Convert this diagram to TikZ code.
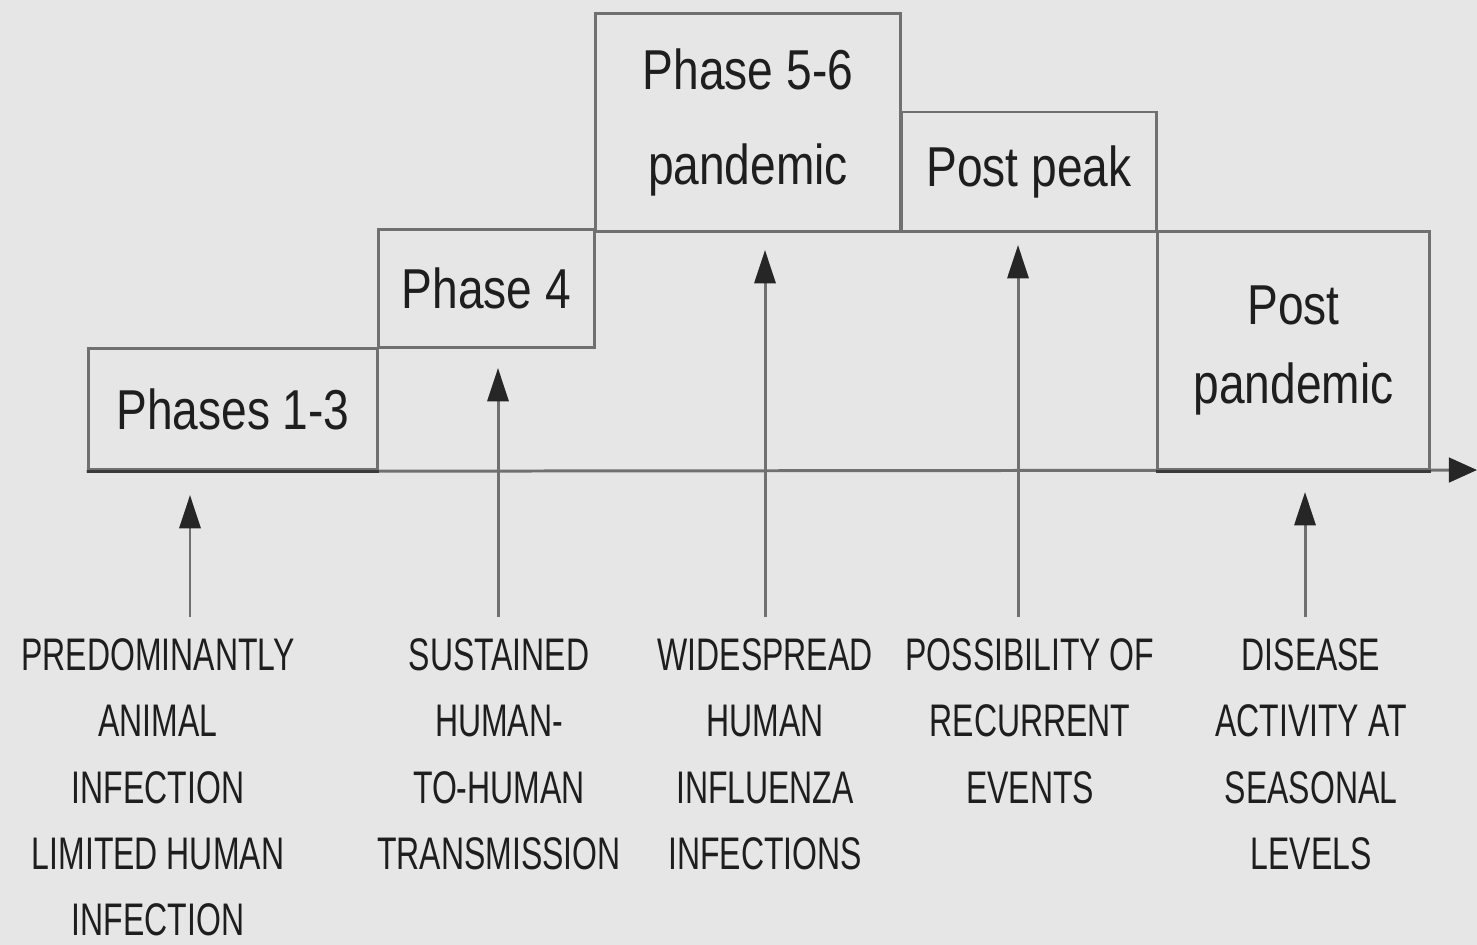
\documentclass[tikz,border=0pt]{standalone}
\usepackage{fontspec}
\setmainfont{Liberation Sans}
\newfontfamily\boxfont{Liberation Sans}[FakeStretch=0.82]
\newfontfamily\capfont{Liberation Sans}[FakeStretch=0.70]
\usetikzlibrary{arrows.meta,calc}
\definecolor{bg}{HTML}{E6E6E6}
\definecolor{edge}{HTML}{707070}
\definecolor{dark}{HTML}{3A3A3A}
\definecolor{ink}{HTML}{1E1E1E}
\begin{document}
\begin{tikzpicture}[x=0.02cm,y=-0.02cm,
  phasebox/.style={draw=edge, line width=1.7pt, inner sep=0pt, text=ink, align=center,
    font=\boxfont\fontsize{32}{54}\selectfont},
  caplabel/.style={anchor=north, inner sep=0pt, text=ink, align=center,
    font=\capfont\fontsize{26}{37.8}\selectfont},
  uparrow/.style={draw=edge, line width=1.7pt, -{Triangle[length=19pt,width=12pt,color=black!85]}},
  axisline/.style={draw=edge, line width=1.7pt, -{Triangle[length=16pt,width=14pt,color=black!85]}},
  darkedge/.style={draw=dark, line width=1.8pt}
]
\fill[bg] (0,0) rectangle (1477,945);
\useasboundingbox (0,0) rectangle (1477,945);

% phase boxes
\node[phasebox, minimum width=5.8cm,  minimum height=2.44cm] (b1) at (233,409) {Phases 1-3};
\node[phasebox, minimum width=4.34cm, minimum height=2.38cm] (b2) at (486.5,288.5) {Phase 4};
\node[phasebox, minimum width=6.12cm, minimum height=4.38cm] (b3) at (748,122.5) {Phase 5-6\\pandemic};
\node[phasebox, minimum width=5.12cm, minimum height=2.4cm]  (b4) at (1029,172) {Post peak};
\node[phasebox, minimum width=5.46cm, minimum height=4.78cm,
  font=\boxfont\fontsize{32}{45.4}\selectfont] (b5) at (1293.5,350.5) {Post\\pandemic};

% time axis
\coordinate (axisend) at (1477,470);
\draw[axisline] (b1.south west) -- (axisend);
\draw[darkedge] (b1.south west) -- (b1.south east);
\draw[darkedge] (b5.south west) -- (b5.south east);

% labels
\node[caplabel] (lab1) at (158,638) {PREDOMINANTLY\\ANIMAL\\INFECTION\\LIMITED HUMAN\\INFECTION};
\node[caplabel] (lab2) at (499,638) {SUSTAINED\\HUMAN-\\TO-HUMAN\\TRANSMISSION};
\node[caplabel] (lab3) at (765,638) {WIDESPREAD\\HUMAN\\INFLUENZA\\INFECTIONS};
\node[caplabel] (lab4) at (1030,638) {POSSIBILITY OF\\RECURRENT\\EVENTS};
\node[caplabel] (lab5) at (1311,638) {DISEASE\\ACTIVITY AT\\SEASONAL\\LEVELS};

% arrow tips
\coordinate (t1) at (190,495);
\coordinate (t2) at (498,368);
\coordinate (t3) at (765,250);
\coordinate (t4) at (1018,245);
\coordinate (t5) at (1305,492);

\draw[uparrow] ($(lab1.north -| t1)+(0,-21)$) -- (t1);
\draw[uparrow] ($(lab2.north -| t2)+(0,-21)$) -- (t2);
\draw[uparrow] ($(lab3.north -| t3)+(0,-21)$) -- (t3);
\draw[uparrow] ($(lab4.north -| t4)+(0,-21)$) -- (t4);
\draw[uparrow] ($(lab5.north -| t5)+(0,-21)$) -- (t5);
\end{tikzpicture}
\end{document}
